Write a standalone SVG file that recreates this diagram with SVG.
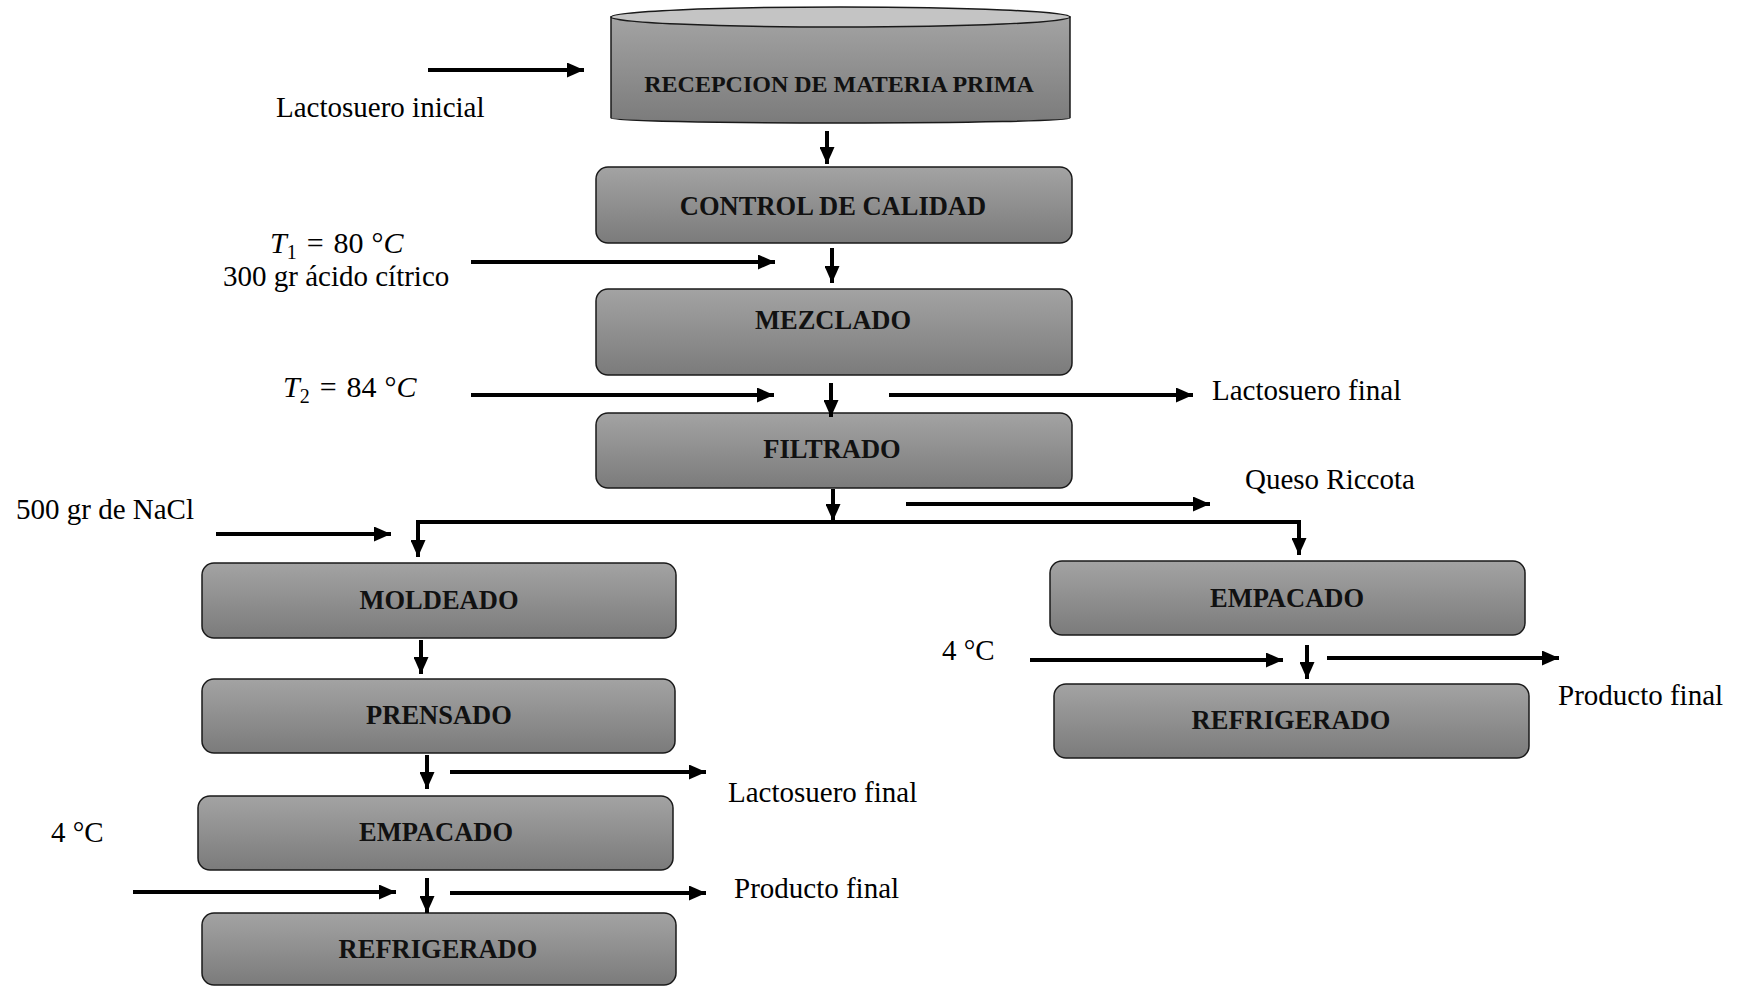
<svg xmlns="http://www.w3.org/2000/svg" width="1739" height="987" viewBox="0 0 1739 987">
<style>
.box{fill:url(#g);stroke:#1a1a1a;stroke-width:1.5}
.lbl{font-family:"Liberation Serif","Times New Roman",serif;font-weight:bold;font-size:26.5px;fill:#111;text-anchor:middle}
.txt{font-family:"Liberation Serif","Times New Roman",serif;font-size:29px;fill:#000}
.ar{stroke:#000;stroke-width:4;fill:none;marker-end:url(#ah)}
.ln{stroke:#000;stroke-width:4;fill:none}
</style>
<defs>
<linearGradient id="g" x1="0" y1="0" x2="0" y2="1">
<stop offset="0" stop-color="#a3a3a3"/>
<stop offset="1" stop-color="#7b7b7b"/>
</linearGradient>
<marker id="ah" markerUnits="userSpaceOnUse" markerWidth="17" markerHeight="15" refX="17" refY="7.5" orient="auto">
<path d="M0,0 L17,7.5 L0,15 Z" fill="#000"/>
</marker>
</defs>
<rect width="1739" height="987" fill="#fff"/>

<g id="recepcion">
<path class="box" d="M611,17 L611,118 A229.5,5 0 0 0 1070,118 L1070,17 Z"/>
<ellipse cx="840.5" cy="17" rx="229.5" ry="10" fill="#c4c4c4" stroke="#1a1a1a" stroke-width="1.5"/>
<text class="lbl" x="839" y="92" style="font-size:24px">RECEPCION DE MATERIA PRIMA</text>
</g>
<g id="control"><rect class="box" x="596" y="167" width="476" height="76" rx="12"/><text class="lbl" x="833" y="215">CONTROL DE CALIDAD</text></g>
<g id="mezclado"><rect class="box" x="596" y="289" width="476" height="86" rx="12"/><text class="lbl" x="833" y="329">MEZCLADO</text></g>
<g id="filtrado"><rect class="box" x="596" y="413" width="476" height="75" rx="12"/><text class="lbl" x="832" y="458">FILTRADO</text></g>
<g id="moldeado"><rect class="box" x="202" y="563" width="474" height="75" rx="12"/><text class="lbl" x="439" y="609">MOLDEADO</text></g>
<g id="prensado"><rect class="box" x="202" y="679" width="473" height="74" rx="12"/><text class="lbl" x="439" y="724">PRENSADO</text></g>
<g id="empacado1"><rect class="box" x="198" y="796" width="475" height="74" rx="12"/><text class="lbl" x="436" y="841">EMPACADO</text></g>
<g id="refrigerado1"><rect class="box" x="202" y="913" width="474" height="72" rx="12"/><text class="lbl" x="438" y="958">REFRIGERADO</text></g>
<g id="empacado2"><rect class="box" x="1050" y="561" width="475" height="74" rx="12"/><text class="lbl" x="1287" y="607">EMPACADO</text></g>
<g id="refrigerado2"><rect class="box" x="1054" y="684" width="475" height="74" rx="12"/><text class="lbl" x="1291" y="729">REFRIGERADO</text></g>

<g id="connectors">
<line class="ar" x1="428" y1="70" x2="584" y2="70"/>
<line class="ar" x1="827" y1="131" x2="827" y2="164"/>
<line class="ar" x1="832" y1="248" x2="832" y2="283"/>
<line class="ar" x1="471" y1="262" x2="775" y2="262"/>
<line class="ar" x1="831" y1="383" x2="831" y2="417"/>
<line class="ar" x1="471" y1="395" x2="774" y2="395"/>
<line class="ar" x1="889" y1="395" x2="1193" y2="395"/>
<line class="ar" x1="833" y1="489" x2="833" y2="521"/>
<polyline class="ln" points="418,540 418,522 1299,522 1299,540"/>
<line class="ar" x1="418" y1="522" x2="418" y2="557"/>
<line class="ar" x1="1299" y1="522" x2="1299" y2="555"/>
<line class="ar" x1="906" y1="504" x2="1210" y2="504"/>
<line class="ar" x1="216" y1="534" x2="391" y2="534"/>
<line class="ar" x1="421" y1="640" x2="421" y2="674"/>
<line class="ar" x1="427" y1="755" x2="427" y2="789"/>
<line class="ar" x1="450" y1="772" x2="706" y2="772"/>
<line class="ar" x1="133" y1="892" x2="396" y2="892"/>
<line class="ar" x1="427" y1="878" x2="427" y2="913"/>
<line class="ar" x1="450" y1="893" x2="706" y2="893"/>
<line class="ar" x1="1030" y1="660" x2="1283" y2="660"/>
<line class="ar" x1="1307" y1="645" x2="1307" y2="679"/>
<line class="ar" x1="1327" y1="658" x2="1559" y2="658"/>
</g>

<g id="labels">
<text class="txt" x="270" y="117" dx="6">Lactosuero inicial</text>
<text class="txt" x="270" y="253" style="font-size:30px"><tspan font-style="italic">T</tspan><tspan font-size="20" dy="6">1</tspan><tspan dy="-6" dx="10">=</tspan><tspan dx="10">80</tspan><tspan dx="8">°</tspan><tspan font-style="italic">C</tspan></text>
<text class="txt" x="223" y="286">300 gr ácido cítrico</text>
<text class="txt" x="283" y="397" style="font-size:30px"><tspan font-style="italic">T</tspan><tspan font-size="20" dy="6">2</tspan><tspan dy="-6" dx="10">=</tspan><tspan dx="10">84</tspan><tspan dx="8">°</tspan><tspan font-style="italic">C</tspan></text>
<text class="txt" x="1212" y="400">Lactosuero final</text>
<text class="txt" x="1245" y="489">Queso Riccota</text>
<text class="txt" x="16" y="519">500 gr de NaCl</text>
<text class="txt" x="942" y="660">4 °C</text>
<text class="txt" x="1558" y="705">Producto final</text>
<text class="txt" x="728" y="802">Lactosuero final</text>
<text class="txt" x="51" y="842">4 °C</text>
<text class="txt" x="734" y="898">Producto final</text>
</g>
</svg>
